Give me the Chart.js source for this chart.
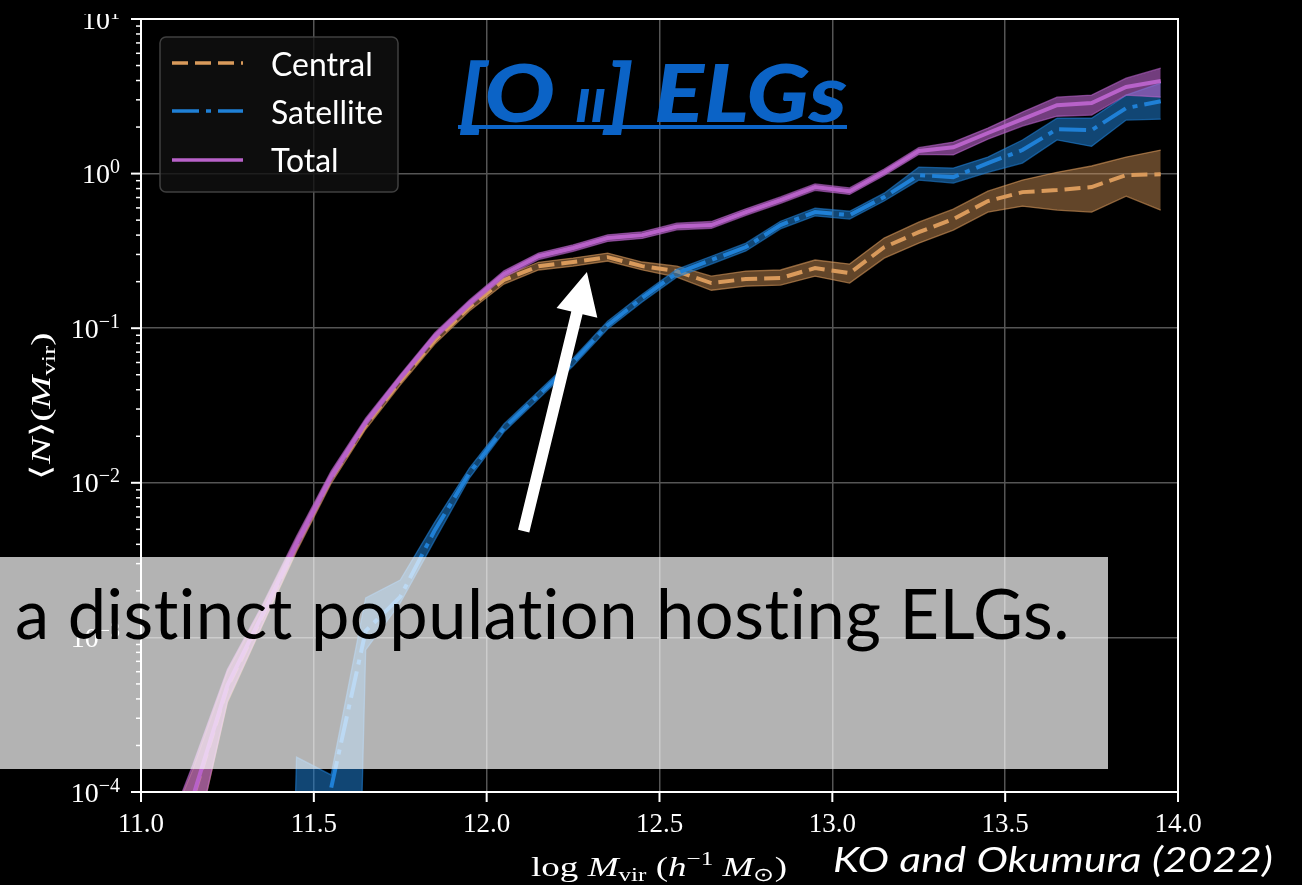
<!DOCTYPE html>
<html><head><meta charset="utf-8">
<script src="https://cdn.jsdelivr.net/npm/chart.js@4.4.1/dist/chart.umd.min.js"></script>
<style>html,body{margin:0;padding:0;background:#000;overflow:hidden}canvas{display:block}</style>
</head><body>
<canvas id="c" width="1302" height="885"></canvas>
<script>
// ---- data ----
const massBins = [11.05,11.15,11.25,11.35,11.45,11.55,11.65,11.75,11.85,11.95,12.05,12.15,12.25,12.35,12.45,12.55,12.65,12.75,12.85,12.95,13.05,13.15,13.25,13.35,13.45,13.55,13.65,13.75,13.85,13.95];
const totalN   = [2e-5,9.3e-5,4.9e-4,1.39e-3,4.07e-3,0.0110,0.0247,0.0476,0.0889,0.145,0.224,0.292,0.330,0.383,0.400,0.455,0.465,0.564,0.674,0.818,0.770,1.02,1.40,1.48,1.83,2.25,2.77,2.86,3.63,3.97];
const totalHi  = [4e-5,1.5e-4,6.2e-4,1.6e-3,4.5e-3,0.0119,0.0262,0.0500,0.0935,0.152,0.235,0.306,0.346,0.402,0.420,0.478,0.490,0.592,0.707,0.858,0.808,1.07,1.47,1.60,1.97,2.50,3.12,3.22,4.14,4.81];
const totalLo  = [0,4e-5,3.9e-4,1.2e-3,3.7e-3,0.0102,0.0233,0.0453,0.0845,0.138,0.213,0.278,0.314,0.364,0.381,0.433,0.443,0.537,0.642,0.779,0.733,0.972,1.33,1.32,1.67,2.03,2.35,2.39,3.22,3.12];
const centralN = [2e-5,9.0e-5,4.77e-4,1.35e-3,3.95e-3,0.0107,0.0236,0.0455,0.0837,0.137,0.205,0.252,0.268,0.288,0.252,0.234,0.196,0.208,0.211,0.245,0.227,0.334,0.418,0.508,0.664,0.759,0.782,0.818,0.978,0.990];
const centralHi= [4e-5,1.4e-4,6.0e-4,1.55e-3,4.35e-3,0.0115,0.0251,0.0482,0.0887,0.145,0.217,0.267,0.284,0.306,0.268,0.252,0.217,0.234,0.238,0.276,0.260,0.383,0.485,0.589,0.770,0.908,1.02,1.12,1.28,1.42];
const centralLo= [0,4e-5,3.8e-4,1.18e-3,3.6e-3,0.0099,0.0222,0.0429,0.0790,0.129,0.193,0.238,0.252,0.272,0.238,0.214,0.176,0.187,0.190,0.217,0.196,0.284,0.355,0.431,0.564,0.616,0.581,0.564,0.715,0.581];
const satN     = [0,0,0,0,0,1.06e-4,1.10e-3,1.83e-3,4.94e-3,0.01156,0.0226,0.0369,0.0603,0.1047,0.157,0.227,0.276,0.335,0.465,0.564,0.539,0.705,0.978,0.949,1.17,1.42,1.94,1.91,2.65,2.94];
const satHi    = [0,0,0,0,1.68e-4,1.29e-4,1.80e-3,2.35e-3,5.57e-3,0.01245,0.0240,0.0391,0.0639,0.111,0.166,0.240,0.292,0.355,0.492,0.597,0.571,0.747,1.10,1.085,1.28,1.65,2.28,2.28,3.22,3.85];
const satLo    = [0,0,0,0,0,0,8.3e-4,1.67e-3,4.26e-3,0.01072,0.0213,0.0348,0.0569,0.0988,0.148,0.214,0.260,0.316,0.439,0.532,0.508,0.665,0.908,0.868,1.02,1.17,1.65,1.50,2.22,2.25];

const seriesNames = ['Central','Satellite','Total'];
const xTickValues = [11,11.5,12,12.5,13,13.5,14];
const xTickLabels = ['11.0','11.5','12.0','12.5','13.0','13.5','14.0'];
const yTickValues = [1e-4,1e-3,1e-2,1e-1,1,10];
const yTickBase = ['10','10','10','10','10','10'];
const yTickExp = ['\u22124','\u22123','\u22122','\u22121','0','1'];
const titleParts = ['[O ','II','] ELGs'];
const overlayText = 'a distinct population hosting ELGs.';
const citeText = 'KO and Okumura (2022)';
const arrowTail = {x:12.107, y:0.00487};
const arrowTip  = {x:12.290, y:0.2307};

// ---- styles ----
const C_CEN = '#d99a5b', C_SAT = '#1f80d6', C_TOT = '#b862c9';
const DASH_CEN = [16,7], DASH_SAT = [27,7,5,7];

function pts(arr){ return massBins.map((x,i)=>({x:x, y: arr[i] > 0 ? arr[i] : 1e-12})); }
function lineDs(label, arr, color, dash, order){
  return {label, data:pts(arr), borderColor:color, borderWidth:4, borderDash:dash, pointRadius:0, tension:0, fill:false, order};
}
function bandDs(label, arr, rgb, fillA, order, isUpper){
  return {label, data:pts(arr), borderColor:`rgba(${rgb},0.6)`, borderWidth:1.3, pointRadius:0, tension:0,
    backgroundColor:`rgba(${rgb},${fillA})`, fill: isUpper ? '+1' : false, order};
}

const datasets = [
  lineDs('Total', totalN, C_TOT, [], 0),
  bandDs('Total hi', totalHi, '184,98,201', 0.62, 1, true),
  bandDs('Total lo', totalLo, '184,98,201', 0.62, 2, false),
  lineDs('Satellite', satN, C_SAT, DASH_SAT, 3),
  bandDs('Sat hi', satHi, '31,127,212', 0.55, 4, true),
  bandDs('Sat lo', satLo, '31,127,212', 0.55, 5, false),
  lineDs('Central', centralN, C_CEN, DASH_CEN, 6),
  bandDs('Cen hi', centralHi, '217,154,91', 0.45, 7, true),
  bandDs('Cen lo', centralLo, '217,154,91', 0.45, 8, false)
];

function rich(ctx, parts, x, y, align, targetW, spacing){
  ctx.save();
  if (spacing) ctx.letterSpacing = spacing;
  let total = 0;
  parts.forEach(p=>{ ctx.font = p.f; p.w = ctx.measureText(p.t).width; total += p.w; });
  const s = targetW ? targetW/total : 1;
  ctx.translate(x,y); ctx.scale(s,1);
  let cx = align==='center' ? -total/2 : (align==='right' ? -total : 0);
  ctx.textAlign='left'; ctx.textBaseline='alphabetic';
  parts.forEach(p=>{ ctx.font=p.f; ctx.fillText(p.t, cx, p.dy||0); cx += p.w; });
  ctx.restore();
}
function seg(ctx,x1,y1,x2,y2){ ctx.beginPath(); ctx.moveTo(x1,y1); ctx.lineTo(x2,y2); ctx.stroke(); }

const SERIF = '"Liberation Serif"';
const deco = {
  id:'deco',
  afterDraw(chart){
    const ctx = chart.ctx, a = chart.chartArea, xs = chart.scales.x, ys = chart.scales.y;
    ctx.save();
    // spines
    ctx.strokeStyle='#fff'; ctx.lineWidth=2; ctx.setLineDash([]);
    ctx.strokeRect(a.left, a.top, a.right-a.left, a.bottom-a.top);
    // ticks
    xTickValues.forEach(v=>{ const px = xs.getPixelForValue(v); seg(ctx,px,a.bottom,px,a.bottom+10); });
    yTickValues.forEach(v=>{ const py = ys.getPixelForValue(v); seg(ctx,a.left-10,py,a.left,py); });
    ctx.lineWidth=1.5;
    for (let d=-4; d<1; d++) for (let m=2; m<10; m++){ const py = ys.getPixelForValue(m*Math.pow(10,d)); seg(ctx,a.left-5,py,a.left,py); }
    // tick labels
    ctx.fillStyle='#fff';
    ctx.font='27px '+SERIF; ctx.textAlign='center'; ctx.textBaseline='alphabetic';
    xTickValues.forEach((v,i)=>{ ctx.fillText(xTickLabels[i], xs.getPixelForValue(v), a.bottom+40); });
    ctx.save(); ctx.beginPath(); ctx.rect(0,14,a.left,885); ctx.clip();
    yTickValues.forEach((v,i)=>{
      const py = ys.getPixelForValue(v);
      rich(ctx,[{t:yTickBase[i],f:'28px '+SERIF},{t:yTickExp[i],f:'20px '+SERIF,dy:-10}], 120, py+9.5, 'right', null);
    });
    ctx.restore();
    // axis labels
    const it = 'italic 28px '+SERIF, rm='28px '+SERIF, sm='19px '+SERIF;
    rich(ctx,[{t:'log ',f:rm},{t:'M',f:it},{t:'vir',f:sm,dy:5},{t:' (',f:rm},{t:'h',f:it},{t:'\u22121',f:sm,dy:-11},{t:' ',f:rm},{t:'M',f:it},{t:'\u2299',f:sm,dy:5},{t:')',f:rm}], 659, 876, 'center', 256);
    ctx.save(); ctx.translate(50,406); ctx.rotate(-Math.PI/2);
    rich(ctx,[{t:'\u27E8',f:rm},{t:'N',f:it},{t:'\u27E9',f:rm},{t:'(',f:rm},{t:'M',f:it},{t:'vir',f:sm,dy:5},{t:')',f:rm}], 0, 0, 'center', 147);
    ctx.restore();
    // legend
    ctx.beginPath(); ctx.roundRect(160,37,238,155,6);
    ctx.fillStyle='rgba(16,16,16,0.8)'; ctx.fill();
    ctx.strokeStyle='rgba(70,70,70,0.9)'; ctx.lineWidth=1.5; ctx.stroke();
    const legY = [63,111,160], legC=[C_CEN,C_SAT,C_TOT], legD=[DASH_CEN,DASH_SAT,[]], legB=[76,124,172];
    ctx.lineWidth=3.5;
    for (let i=0;i<3;i++){ ctx.strokeStyle=legC[i]; ctx.setLineDash(legD[i]); seg(ctx,172,legY[i],243,legY[i]); }
    ctx.setLineDash([]);
    ctx.fillStyle='#fff';
    ctx.font='32px Lato'; const sw = 112/ctx.measureText('Satellite').width;
    for (let i=0;i<3;i++){ ctx.save(); ctx.translate(271,legB[i]); ctx.scale(sw,1); ctx.textAlign='left'; ctx.fillText(seriesNames[i],0,0); ctx.restore(); }
    // title
    ctx.fillStyle='#0b63c6';
    const tb='italic 900 80px Lato', ts='italic 900 46px Lato';
    rich(ctx,[{t:titleParts[0],f:tb},{t:titleParts[1],f:ts},{t:titleParts[2],f:tb}], 458, 122, 'left', 389);
    ctx.fillRect(458,125,389,4);
    // arrow
    const tx=xs.getPixelForValue(arrowTail.x), ty=ys.getPixelForValue(arrowTail.y);
    const hx=xs.getPixelForValue(arrowTip.x), hy=ys.getPixelForValue(arrowTip.y);
    const L=Math.hypot(hx-tx,hy-ty), ux=(hx-tx)/L, uy=(hy-ty)/L, nx=-uy, ny=ux;
    const hw=5.8, headW=21, headL=42;
    const bx=hx-ux*headL, by=hy-uy*headL;
    ctx.fillStyle='#fff'; ctx.beginPath();
    ctx.moveTo(tx+nx*hw,ty+ny*hw); ctx.lineTo(bx+nx*hw,by+ny*hw); ctx.lineTo(bx+nx*headW,by+ny*headW);
    ctx.lineTo(hx,hy); ctx.lineTo(bx-nx*headW,by-ny*headW); ctx.lineTo(bx-nx*hw,by-ny*hw); ctx.lineTo(tx-nx*hw,ty-ny*hw);
    ctx.closePath(); ctx.fill();
    // overlay caption box
    ctx.fillStyle='rgba(255,255,255,0.70)'; ctx.fillRect(0,557,1108,212);
    ctx.fillStyle='#000';
    rich(ctx,[{t:overlayText,f:'69px Lato'}], 15, 639, 'left', 1055, '0.5px');
    // citation
    ctx.fillStyle='#fff';
    rich(ctx,[{t:citeText,f:'italic 35px Lato'}], 833, 872, 'left', 440, '0.2px');
    ctx.restore();
  }
};

new Chart(document.getElementById('c'), {
  type:'line',
  data:{datasets},
  options:{
    responsive:false, animation:false, devicePixelRatio:1,
    layout:{padding:{left:141,right:124,top:19,bottom:93}},
    plugins:{legend:{display:false}, tooltip:{enabled:false}},
    scales:{
      x:{type:'linear', min:11, max:14,
         afterBuildTicks:s=>{ s.ticks = xTickValues.map(v=>({value:v})); },
         ticks:{display:false}, grid:{color:'#555', lineWidth:1.5, drawTicks:false}, border:{display:false}},
      y:{type:'logarithmic', min:1e-4, max:10,
         afterBuildTicks:s=>{ s.ticks = yTickValues.map(v=>({value:v})); },
         ticks:{display:false}, grid:{color:'#555', lineWidth:1.5, drawTicks:false}, border:{display:false}}
    }
  },
  plugins:[deco]
});
</script>
</body></html>
